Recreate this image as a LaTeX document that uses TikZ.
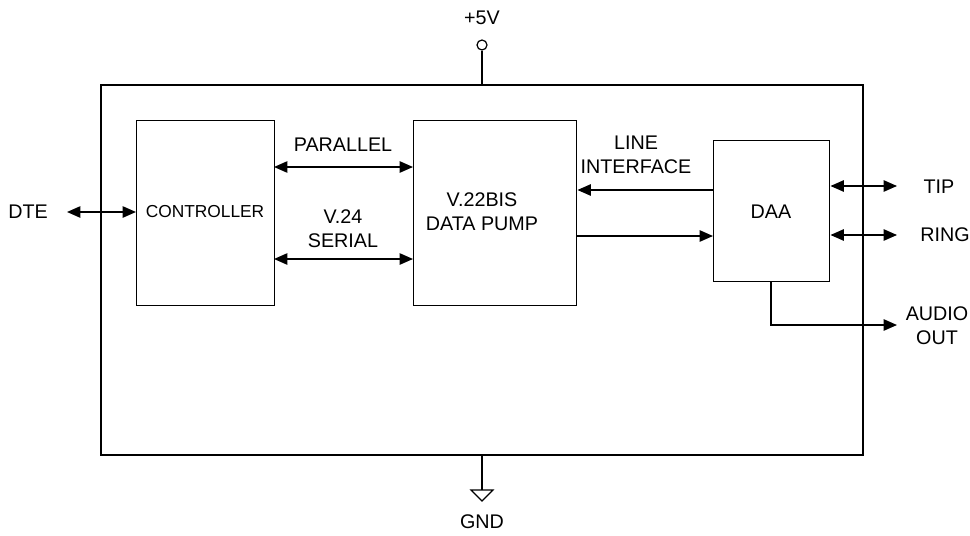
\documentclass[tikz,border=0pt]{standalone}
\usepackage{fontspec}
\setmainfont{Liberation Sans}
\usetikzlibrary{arrows.meta}
\begin{document}
\begin{tikzpicture}[x=0.75pt,y=-0.75pt,
  wire/.style={line width=1.1pt},
  tip/.style={-{Triangle[length=10pt,width=8.5pt]}},
  both/.style={{Triangle[length=10pt,width=8.5pt]}-{Triangle[length=10pt,width=8.5pt]}},
  blk/.style={draw,line width=1.1pt},
  lbl/.style={font=\fontsize{14.8pt}{18pt}\selectfont,inner sep=0pt,align=center}]
\useasboundingbox (0,0) rectangle (970,535);
% outer box
\draw[blk] (101,85) rectangle (863,455);
% blocks
\node[blk,minimum width=138*0.75pt,minimum height=185*0.75pt,anchor=north west] (ctrl) at (136,120) {};
\node[blk,minimum width=163*0.75pt,minimum height=185*0.75pt,anchor=north west] (pump) at (413,120) {};
\node[blk,minimum width=116*0.75pt,minimum height=141*0.75pt,anchor=north west] (daa) at (713,140) {};
\node[lbl,font=\fontsize{13pt}{15pt}\selectfont] at (205,212) {CONTROLLER};
\node[lbl] at (482,212) {V.22BIS\\DATA PUMP};
\node[lbl] at (771,212) {DAA};
% +5V
\node[draw,circle,line width=0.9pt,minimum size=10*0.75pt,inner sep=0pt] (vcc) at (482,45) {};
\coordinate (vccb) at (482,85);
\draw[wire] (vcc.south) -- (vccb);
\node[lbl] (vlbl) at (482,18) {+5V};
% GND
\coordinate (gtop) at (482,455);
\coordinate (gtri) at (482,490);
\draw[wire] (gtop) -- (gtri);
\draw[line width=0.9pt] (471,490) -- (493,490) -- (482,501) -- cycle;
\node[lbl] (gnd) at (482,522) {GND};
% DTE
\node[lbl] (dte) at (28,212) {DTE};
\coordinate (dteA) at (67,212);
\draw[wire,both] (dteA) -- (ctrl.west |- dteA);
% parallel / serial
\coordinate (par) at (274,167);
\draw[wire,both] (par) -- (pump.west |- par);
\node[lbl] at (343,145) {PARALLEL};
\coordinate (ser) at (274,259);
\draw[wire,both] (ser) -- (pump.west |- ser);
\node[lbl] at (343,229) {V.24\\SERIAL};
% line interface
\coordinate (li) at (713,190);
\draw[wire,tip] (li) -- (pump.east |- li);
\node[lbl] at (636,155) {LINE\\INTERFACE};
\coordinate (tx) at (576,236);
\draw[wire,tip] (tx) -- (daa.west |- tx);
% TIP RING
\coordinate (tipR) at (897,186);
\draw[wire,both] (daa.east |- tipR) -- (tipR);
\node[lbl] (tiplbl) at (939,187) {TIP};
\coordinate (ringR) at (897,235);
\draw[wire,both] (daa.east |- ringR) -- (ringR);
\node[lbl] (ringlbl) at (945,235) {RING};
% audio out
\coordinate (aud) at (897,325);
\draw[wire,tip] (771,281) |- (aud);
\node[lbl] (audlbl) at (937,326) {AUDIO\\OUT};
\end{tikzpicture}
\end{document}
